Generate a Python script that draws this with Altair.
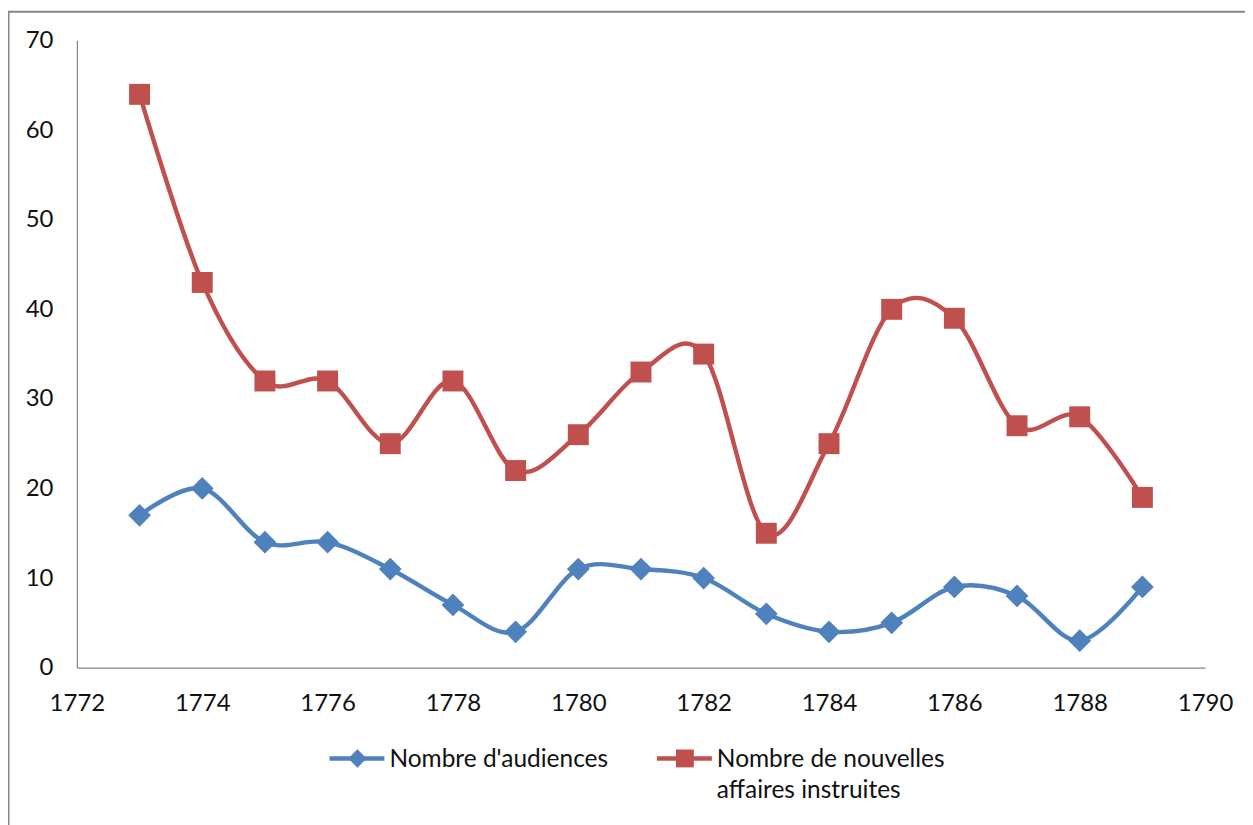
import altair as alt
import pandas as pd

years = list(range(1773, 1790))
audiences = [17, 20, 14, 14, 11, 7, 4, 11, 11, 10, 6, 4, 5, 9, 8, 3, 9]
affaires = [64, 43, 32, 32, 25, 32, 22, 26, 33, 35, 15, 25, 40, 39, 27, 28, 19]
series_names = ["Nombre d'audiences", "Nombre de nouvelles affaires instruites"]
legend_labels = ["Nombre d'audiences", "Nombre de nouvelles\naffaires instruites"]
colors = ["#4F81BD", "#C0504D"]
shapes = ["diamond", "square"]
x_ticks = list(range(1772, 1791, 2))
y_ticks = list(range(0, 71, 10))

df = pd.DataFrame({
    "year": years * 2,
    "value": audiences + affaires,
    "series": [series_names[0]] * len(years) + [series_names[1]] * len(years),
})

FONT = "Lato"
color_scale = alt.Scale(domain=series_names, range=colors)
shape_scale = alt.Scale(domain=series_names, range=shapes)
size_scale = alt.Scale(domain=series_names, range=[520, 440])

x_enc = alt.X("year:Q", scale=alt.Scale(domain=[1772, 1790], nice=False, zero=False),
              axis=alt.Axis(values=x_ticks, format="d", title=None, labelPadding=24,
                            labelFlush=False, labelOverlap=False))
y_enc = alt.Y("value:Q", scale=alt.Scale(domain=[0, 70], nice=False),
              axis=alt.Axis(values=y_ticks, title=None, labelPadding=24,
                            labelFlush=False, labelOverlap=False))

base = alt.Chart(df)
lines = base.mark_line(interpolate="cardinal", strokeWidth=4.4).encode(
    x=x_enc, y=y_enc,
    color=alt.Color("series:N", scale=color_scale, legend=None),
    detail="series:N",
)
points = base.mark_point(filled=True, opacity=1).encode(
    x=x_enc, y=y_enc,
    color=alt.Color("series:N", scale=color_scale, legend=None),
    shape=alt.Shape("series:N", scale=shape_scale, legend=None),
    size=alt.Size("series:N", scale=size_scale, legend=None),
)

one = pd.DataFrame({"a": [0]})
border = alt.Chart(one).mark_rect(filled=False, stroke="#868686", strokeWidth=2).encode(
    x=alt.value(-68.5), x2=alt.value(1300), y=alt.value(-29), y2=alt.value(900)
)

legend_layers = []
leg_x = [253, 581]
leg_sizes = [340, 320]
for i in range(2):
    lx = leg_x[i]
    legend_layers.append(
        alt.Chart(one).mark_rule(color=colors[i], strokeWidth=4.4).encode(
            x=alt.value(lx), x2=alt.value(lx + 55), y=alt.value(719))
    )
    legend_layers.append(
        alt.Chart(one).mark_point(filled=True, opacity=1, shape=shapes[i], color=colors[i],
                                  size=leg_sizes[i]).encode(x=alt.value(lx + 28), y=alt.value(719))
    )
    legend_layers.append(
        alt.Chart(one).mark_text(align="left", baseline="alphabetic", font=FONT, fontSize=24.5,
                                 color="#111111", lineBreak="\n", lineHeight=31).encode(
            x=alt.value(lx + 60), y=alt.value(728), text=alt.value(legend_labels[i]))
    )

chart = alt.layer(border, lines, points, *legend_layers).properties(
    width=1130, height=628,
    padding={"left": 69, "top": 32, "right": 40, "bottom": 160},
    autosize=alt.AutoSizeParams(type="none"),
).configure_view(stroke=None).configure_axis(
    domainColor="#868686", domainWidth=1.2, ticks=False, grid=False,
    labelFont=FONT, labelFontSize=24, labelColor="#111111",
)

chart.save("out.html", embed_options={"renderer": "svg", "actions": False})
